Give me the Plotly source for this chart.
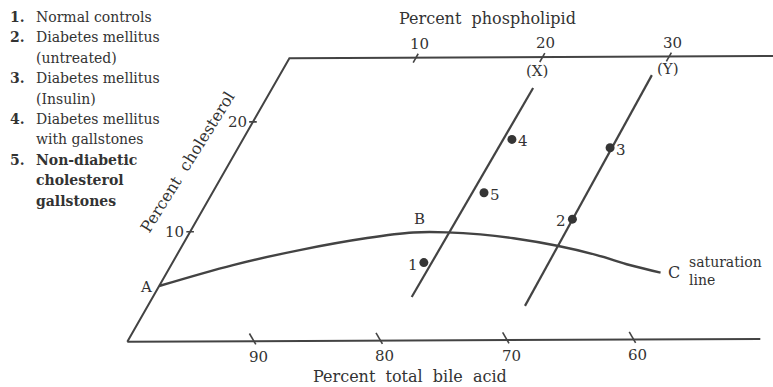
import math
import plotly.graph_objects as go

# ---------------- data (percent phospholipid, percent cholesterol) ----------------
group_ids = ["1", "2", "3", "4", "5"]
group_phospholipid = [19.9, 29.7, 29.45, 21.3, 21.5]
group_cholesterol = [7.1, 11.0, 17.5, 18.3, 13.45]
group_label_side = ["left", "left", "right", "right", "right"]

legend_numbers = ["1.", "2.", "", "3.", "", "4.", "", "5.", "", ""]
legend_texts = ["Normal controls", "Diabetes mellitus", "(untreated)", "Diabetes mellitus",
                "(Insulin)", "Diabetes mellitus", "with gallstones", "Non-diabetic",
                "cholesterol", "gallstones"]
legend_bold = [False, False, False, False, False, False, False, True, True, True]

# saturation line A - B - C
sat_phospholipid = [0.0, 4.9, 9.5, 14.3, 17.7, 20.35, 23.1, 25.9, 29.7, 33.25, 36.3, 39.1]
sat_cholesterol = [5.07, 6.95, 8.29, 9.36, 9.85, 9.85, 9.65, 9.28, 8.58, 7.72, 6.80, 6.09]

# lines (X) and (Y)
lineX_phospholipid = [20.5, 20.65]
lineX_cholesterol = [3.96, 22.98]
lineY_phospholipid = [29.87, 29.47]
lineY_cholesterol = [3.11, 24.11]

# axis ticks
bile_ticks = [90, 80, 70, 60]
phospholipid_ticks = [10, 20, 30]
cholesterol_ticks = [10, 20]
frame_top_cholesterol = 25.8
frame_bottom_phospholipid_end = 50
frame_top_phospholipid_end = 40

# ---------------- projection (equilateral ternary grid, slightly rotated scan) ----------------
THETA = 0.00428
S3 = math.sqrt(3) / 2


def proj(p, c):
    X = p + c / 2.0
    Y = c * S3
    return (X * math.cos(THETA) - Y * math.sin(THETA),
            X * math.sin(THETA) + Y * math.cos(THETA))


def projl(ps, cs):
    pts = [proj(p, c) for p, c in zip(ps, cs)]
    return [a for a, b in pts], [b for a, b in pts]


X0, Y0, K = 127.3, 341.7, 12.66  # pixel of origin, pixels per unit
XR = [-X0 / K, (773 - X0) / K]
YR = [(Y0 - 387) / K, Y0 / K]


def px(sx, sy):
    return (sx - X0) / K, (Y0 - sy) / K


INK = "#434343"
TXT = "#333333"
FONT = "DejaVu Serif"

fig = go.Figure()


def add_line(xs, ys, w=2.2, shape="linear"):
    fig.add_trace(go.Scatter(x=xs, y=ys, mode="lines",
                             line=dict(color=INK, width=w, shape=shape, smoothing=1.0),
                             hoverinfo="skip", showlegend=False))


# frame
add_line(*projl([0, frame_bottom_phospholipid_end], [0, 0]), w=2.0)
add_line(*projl([0, 0, frame_top_phospholipid_end],
                [0, frame_top_cholesterol, frame_top_cholesterol]), w=2.0)

# bottom ticks (constant bile acid: p + c = 100 - b)
for b in bile_ticks:
    s = 100 - b
    xs, ys = projl([s - 0.7, s + 0.3], [0.7, -0.3])
    add_line(xs, ys, w=1.6)
    lx, ly = proj(s + 0.35, -0.35)
    fig.add_annotation(x=lx, y=ly, text=str(b), showarrow=False, xanchor="center",
                       yanchor="top", yshift=-1, xshift=2, font=dict(family=FONT, size=15, color=TXT))

# top ticks (constant phospholipid)
for p in phospholipid_ticks:
    xs, ys = projl([p, p], [frame_top_cholesterol - 0.45, frame_top_cholesterol + 0.35])
    add_line(xs, ys, w=1.6)
    lx, ly = proj(p, frame_top_cholesterol + 0.35)
    fig.add_annotation(x=lx, y=ly, text=str(p), showarrow=False, xanchor="center",
                       yanchor="bottom", yshift=-1, xshift=1, font=dict(family=FONT, size=15, color=TXT))

# left ticks (constant cholesterol)
for c in cholesterol_ticks:
    xs, ys = projl([-0.3, 0.3], [c, c])
    add_line(xs, ys, w=1.6)
    lx, ly = proj(-0.3, c)
    fig.add_annotation(x=lx, y=ly, text=str(c), showarrow=False, xanchor="right",
                       yanchor="middle", xshift=0, font=dict(family=FONT, size=15, color=TXT))

# saturation line
add_line(*projl(sat_phospholipid, sat_cholesterol), w=2.4, shape="spline")

# lines X and Y
add_line(*projl(lineX_phospholipid, lineX_cholesterol), w=2.2)
add_line(*projl(lineY_phospholipid, lineY_cholesterol), w=2.2)

# group points
gx, gy = projl(group_phospholipid, group_cholesterol)
fig.add_trace(go.Scatter(x=gx, y=gy, mode="markers",
                         marker=dict(color="#353535", size=9, line=dict(width=0)),
                         hoverinfo="skip", showlegend=False))
for gid, x, y, side in zip(group_ids, gx, gy, group_label_side):
    if side == "left":
        fig.add_annotation(x=x, y=y, text=gid, showarrow=False, xanchor="right",
                           yanchor="middle", xshift=-4, yshift=-2,
                           font=dict(family=FONT, size=15, color=TXT))
    else:
        fig.add_annotation(x=x, y=y, text=gid, showarrow=False, xanchor="left",
                           yanchor="middle", xshift=4, yshift=-2,
                           font=dict(family=FONT, size=15, color=TXT))

# curve point labels A, B, C
ax_, ay_ = proj(sat_phospholipid[0], sat_cholesterol[0])
fig.add_annotation(x=ax_, y=ay_, text="A", showarrow=False, xanchor="right", yanchor="middle",
                   xshift=-5, yshift=-1, font=dict(family=FONT, size=15, color=TXT))
bx_, by_ = proj(sat_phospholipid[4], sat_cholesterol[4])
fig.add_annotation(x=bx_, y=by_, text="B", showarrow=False, xanchor="center", yanchor="bottom",
                   xshift=6, yshift=2, font=dict(family=FONT, size=15, color=TXT))
cx_, cy_ = proj(sat_phospholipid[-1], sat_cholesterol[-1])
fig.add_annotation(x=cx_, y=cy_, text="C", showarrow=False, xanchor="left", yanchor="middle",
                   xshift=5, yshift=0, font=dict(family=FONT, size=16, color=TXT))
fig.add_annotation(x=cx_, y=cy_, text="saturation<br>line", showarrow=False, xanchor="left",
                   yanchor="middle", align="left", xshift=26, yshift=2,
                   font=dict(family=FONT, size=14, color=TXT))

# (X) and (Y)
xx_, xy_ = proj(lineX_phospholipid[1], lineX_cholesterol[1])
fig.add_annotation(x=xx_, y=xy_, text="(X)", showarrow=False, xanchor="center", yanchor="bottom",
                   xshift=4, yshift=6, font=dict(family=FONT, size=15, color=TXT))
yx_, yy_ = proj(lineY_phospholipid[1], lineY_cholesterol[1])
fig.add_annotation(x=yx_, y=yy_, text="(Y)", showarrow=False, xanchor="left", yanchor="bottom",
                   xshift=3, yshift=-5, font=dict(family=FONT, size=15, color=TXT))

# axis titles
tx, ty = px(487, 18)
fig.add_annotation(x=tx, y=ty, text="Percent  phospholipid", showarrow=False, xanchor="center",
                   yanchor="middle", font=dict(family=FONT, size=16, color=TXT))
tx, ty = px(410, 376)
fig.add_annotation(x=tx, y=ty, text="Percent  total  bile  acid", showarrow=False,
                   xanchor="center", yanchor="middle", font=dict(family=FONT, size=16, color=TXT))
tx, ty = px(187, 162)
fig.add_annotation(x=tx, y=ty, text="Percent  cholesterol", showarrow=False, xanchor="center",
                   yanchor="middle", textangle=-58, font=dict(family=FONT, size=16, color=TXT))

# legend text block
for i, (num, t, bold) in enumerate(zip(legend_numbers, legend_texts, legend_bold)):
    yy = 17 + i * 20.4
    if num:
        nx, ny = px(8, yy)
        fig.add_annotation(x=nx, y=ny, text="<b>" + num + "</b>", showarrow=False, xanchor="left",
                           yanchor="middle", font=dict(family=FONT, size=14, color=TXT))
    lx, ly = px(34, yy)
    fig.add_annotation(x=lx, y=ly, text=("<b>" + t + "</b>") if bold else t, showarrow=False,
                       xanchor="left", yanchor="middle",
                       font=dict(family=FONT, size=14, color=TXT))

fig.update_layout(
    width=773, height=387, margin=dict(l=0, r=0, t=0, b=0),
    paper_bgcolor="white", plot_bgcolor="white", showlegend=False,
    xaxis=dict(range=XR, visible=False, fixedrange=True),
    yaxis=dict(range=YR, visible=False, fixedrange=True),
)
fig.write_html("out.html")
